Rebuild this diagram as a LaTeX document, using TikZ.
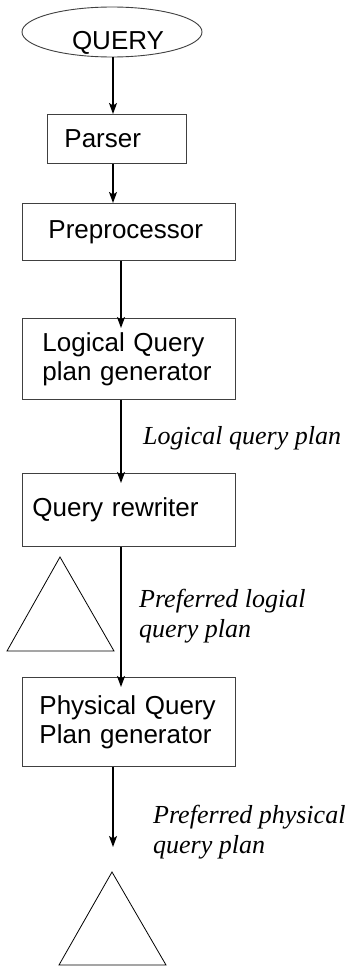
\documentclass[tikz,border=0pt]{standalone}
\usepackage{fontspec}
\setmainfont{Liberation Serif}
\setsansfont{Liberation Sans}
\usetikzlibrary{shapes.geometric,arrows.meta}
\begin{document}
\begin{tikzpicture}[x=1pt,y=-1pt,
  stagebox/.style={draw=black!75,line width=0.9pt,rectangle,anchor=north west,
    align=left,inner ysep=0pt,
    font=\sffamily\fontsize{26}{29}\selectfont},
  arr/.style={draw=black,line width=1.4pt,
    -{Stealth[length=11pt,width=8pt,inset=2.5pt]}},
  flowlabel/.style={anchor=north west,inner sep=0pt,align=left,
    font=\rmfamily\itshape\fontsize{26}{30}\selectfont},
  tri/.style={draw=black,line width=0.8pt}]
\useasboundingbox (0,0) rectangle (352,966);
\fill[white] (0,0) rectangle (352,966);
% columns of the connectors
\coordinate (c1) at (113,0);
\coordinate (c2) at (121,0);
% nodes
\node[draw=black!75,line width=0.9pt,ellipse,minimum width=180pt,minimum height=50pt,
  inner sep=0pt,text height=34pt,text depth=0pt,
  font=\sffamily\fontsize{26}{29}\selectfont] (query) at (112,32) {\hspace*{12pt}QUERY};
\node[stagebox,minimum height=49pt,inner xsep=17pt,text width=105pt] (parser) at (47,114) {Parser};
\node[stagebox,minimum height=57pt,inner xsep=26pt,text width=161pt] (prep) at (22,203) {Preprocessor};
\node[stagebox,minimum height=81pt,inner xsep=20pt,text width=173pt] (lqpg) at (22,318) {Logical Query\\plan generator};
\node[stagebox,minimum height=73pt,inner xsep=10pt,text width=193pt] (rew) at (22,473) {Query rewriter};
\node[stagebox,minimum height=89pt,inner xsep=17pt,text width=179pt] (pqpg) at (22,677) {\mbox{Physical Query}\\Plan generator};
% labels
\node[flowlabel,anchor=base west] (l1) at (143,444) {Logical query plan};
\node[flowlabel] (l2) at (139,589) {Preferred logial\\query plan};
\node[flowlabel] (l3) at (153,805) {Preferred physical\\query plan};
% triangles
\draw[tri] (60,557) -- (114,651) -- (7,651) -- cycle;
\draw[tri] (112,872) -- (166,965) -- (59,965) -- cycle;
\coordinate (t2) at (113,847);
% connectors
\draw[arr] (query.south -| c1) -- (parser.north -| c1);
\draw[arr] (parser.south -| c1) -- (prep.north -| c1);
\draw[arr] (prep.south -| c2) -- ([yshift=-10pt]lqpg.north -| c2);
\draw[arr] (lqpg.south -| c2) -- ([yshift=-10pt]rew.north -| c2);
\draw[arr] (rew.south -| c2) -- ([yshift=-10pt]pqpg.north -| c2);
\draw[arr] (pqpg.south -| c1) -- (t2);
\end{tikzpicture}
\end{document}
